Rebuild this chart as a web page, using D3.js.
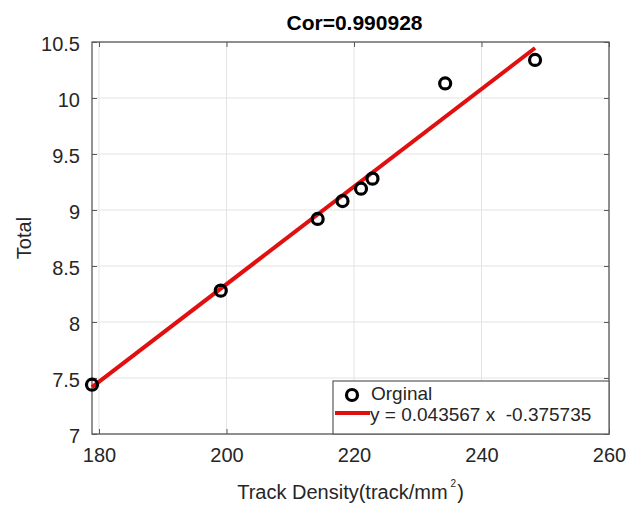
<!DOCTYPE html>
<html>
<head>
<meta charset="utf-8">
<script src="https://cdn.jsdelivr.net/npm/d3@7"></script>
<style>
  html, body { margin: 0; padding: 0; background: #fff; }
  svg { display: block; font-family: "Liberation Sans", Arial, sans-serif; }
</style>
</head>
<body>
<svg id="chart" width="642" height="506"></svg>
<script>
// ---- data ----
const trackDensity = [178.9, 199.1, 214.3, 218.2, 221.1, 222.9, 234.3, 248.4];
const totalValues  = [7.44, 8.28, 8.92, 9.08, 9.19, 9.28, 10.13, 10.34];
const fitSlope = 0.043567;
const fitIntercept = -0.375735;
const xTicks = [180, 200, 220, 240, 260];
const yTicks = [7, 7.5, 8, 8.5, 9, 9.5, 10, 10.5];
const titleText = "Cor=0.990928";
const legendLabels = ["Orginal", "y = 0.043567 x  -0.375735"];

// ---- layout ----
const svg = d3.select("#chart");
const L = 92, R = 609, T = 42, B = 434;
const textColor = "#262626";
const axisColor = "#5a5a5a";

const x = d3.scaleLinear().domain([d3.min(trackDensity), 260]).range([L, R]);
const y = d3.scaleLinear().domain([7, 10.5]).range([B, T]);

// grid
const grid = svg.append("g");
grid.selectAll("line.gx").data(xTicks).enter().append("line")
  .attr("x1", d => x(d)).attr("x2", d => x(d)).attr("y1", T).attr("y2", B)
  .attr("stroke", "#e3e3e3").attr("stroke-width", 1);
grid.selectAll("line.gy").data(yTicks).enter().append("line")
  .attr("x1", L).attr("x2", R).attr("y1", d => y(d)).attr("y2", d => y(d))
  .attr("stroke", "#e3e3e3").attr("stroke-width", 1);

// axes (ticks inward)
const tickLen = 5;
const xAxisB = d3.axisBottom(x).tickValues(xTicks).tickSize(-tickLen).tickPadding(14).tickFormat(d3.format("d"));
const xAxisT = d3.axisTop(x).tickValues(xTicks).tickSize(-tickLen).tickFormat("");
const yAxisL = d3.axisLeft(y).tickValues(yTicks).tickSize(-tickLen).tickPadding(12).tickFormat(d => String(d));
const yAxisR = d3.axisRight(y).tickValues(yTicks).tickSize(-tickLen).tickFormat("");

function styleAxis(g) {
  g.select(".domain").remove();
  g.selectAll(".tick line").attr("stroke", axisColor).attr("stroke-width", 1);
  g.selectAll(".tick text").attr("fill", textColor).attr("font-size", 20)
    .attr("font-family", "Liberation Sans, Arial, sans-serif");
}
svg.append("g").attr("transform", `translate(0,${B})`).call(xAxisB).call(styleAxis)
  .selectAll(".tick text").attr("dy", "0.71em");
svg.append("g").attr("transform", `translate(0,${T})`).call(xAxisT).call(styleAxis);
svg.append("g").attr("transform", `translate(${L},0)`).call(yAxisL).call(styleAxis)
  .selectAll(".tick text").attr("dy", "0.42em");
svg.append("g").attr("transform", `translate(${R},0)`).call(yAxisR).call(styleAxis);

// box
svg.append("rect").attr("x", L).attr("y", T).attr("width", R - L).attr("height", B - T)
  .attr("fill", "none").attr("stroke", axisColor).attr("stroke-width", 1.3);

// fit line
const xExt = d3.extent(trackDensity);
const fitPts = xExt.map(v => [v, fitSlope * v + fitIntercept]);
svg.append("path")
  .attr("d", d3.line().x(d => x(d[0])).y(d => y(d[1]))(fitPts))
  .attr("stroke", "#e01010").attr("stroke-width", 4).attr("fill", "none");

// points
svg.append("g").selectAll("circle").data(trackDensity).enter().append("circle")
  .attr("cx", d => x(d)).attr("cy", (d, i) => y(totalValues[i])).attr("r", 5.5)
  .attr("fill", "none").attr("stroke", "#000").attr("stroke-width", 3.2);

// title
svg.append("text").attr("x", (L + R) / 2 + 4).attr("y", 30).attr("text-anchor", "middle")
  .attr("font-size", 21).attr("font-weight", "bold").attr("fill", "#000").text(titleText);

// axis labels
const xl = svg.append("text").attr("x", (L + R) / 2).attr("y", 499).attr("text-anchor", "middle")
  .attr("font-size", 20).attr("fill", textColor);
xl.append("tspan").text("Track Density(track/mm");
xl.append("tspan").attr("font-size", 10).attr("dy", -12).attr("dx", 3).text("2");
xl.append("tspan").attr("dy", 12).attr("dx", 1).text(")");

svg.append("text").attr("transform", `translate(31,${(T + B) / 2}) rotate(-90)`)
  .attr("text-anchor", "middle").attr("font-size", 20).attr("fill", textColor).text("Total");

// legend
const lg = svg.append("g");
lg.append("rect").attr("x", 333).attr("y", 381).attr("width", R - 333).attr("height", B - 381)
  .attr("fill", "#fff").attr("stroke", axisColor).attr("stroke-width", 1.2);
lg.append("circle").attr("cx", 352).attr("cy", 395).attr("r", 5.5)
  .attr("fill", "none").attr("stroke", "#000").attr("stroke-width", 3.2);
lg.append("line").attr("x1", 335).attr("x2", 370).attr("y1", 413).attr("y2", 413)
  .attr("stroke", "#e01010").attr("stroke-width", 4);
lg.append("text").attr("x", 371).attr("y", 400).attr("font-size", 19).attr("fill", textColor).text(legendLabels[0]);
lg.append("text").attr("x", 370).attr("y", 421).attr("font-size", 19).attr("fill", textColor)
  .attr("xml:space", "preserve").style("white-space", "pre").text(legendLabels[1]);
</script>
</body>
</html>
